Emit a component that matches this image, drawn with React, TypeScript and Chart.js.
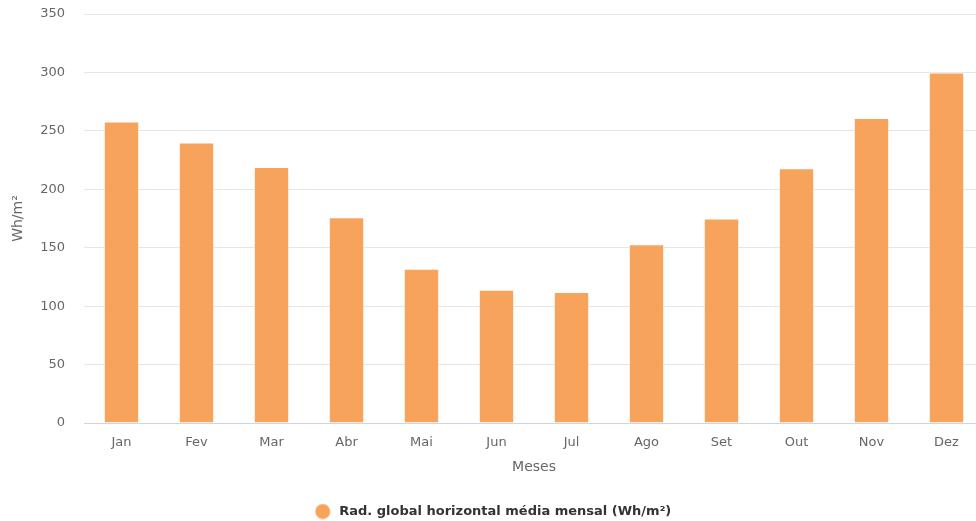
import React, { useEffect, useRef } from "react";
import { Chart, registerables } from "chart.js";

Chart.register(...registerables);

// Monthly mean global horizontal irradiation
const months = ["Jan", "Fev", "Mar", "Abr", "Mai", "Jun", "Jul", "Ago", "Set", "Out", "Nov", "Dez"];
const radiation = [258, 240, 219, 176, 132, 114, 112, 153, 175, 218, 261, 300];
const seriesName = "Rad. global horizontal média mensal (Wh/m²)";
const yTitle = "Wh/m²";
const xTitle = "Meses";
const yMax = 350;
const yStep = 50;

const FONT = "'DejaVu Sans', 'Lucida Grande', Arial, sans-serif";
const BAR_COLOR = "#f7a35c";

// Legend marker: a filled circle centred in a slightly wider box,
// which leaves a little air between the dot and the label.
function makeLegendDot(): HTMLCanvasElement {
  const c = document.createElement("canvas");
  c.width = 20;
  c.height = 16;
  const ctx = c.getContext("2d");
  if (ctx) {
    ctx.fillStyle = BAR_COLOR;
    ctx.beginPath();
    ctx.arc(10, 8, 7.5, 0, Math.PI * 2);
    ctx.fill();
  }
  return c;
}

export default function App() {
  const canvasRef = useRef<HTMLCanvasElement | null>(null);

  useEffect(() => {
    const canvas = canvasRef.current;
    if (!canvas) return;
    const dot = makeLegendDot();
    const chart = new Chart(canvas, {
      type: "bar",
      data: {
        labels: months,
        datasets: [
          {
            label: seriesName,
            data: radiation,
            backgroundColor: BAR_COLOR,
            borderColor: "rgba(255,255,255,0.55)",
            borderWidth: 1,
            barPercentage: 0.8,
            categoryPercentage: 0.59,
            pointStyle: dot as any,
          },
        ],
      },
      options: {
        responsive: false,
        animation: false,
        layout: { padding: { top: 14, right: 8, left: 0, bottom: -7 } },
        plugins: {
          tooltip: { enabled: false },
          legend: {
            position: "bottom",
            labels: {
              usePointStyle: true,
              pointStyleWidth: 20,
              boxHeight: 11,
              padding: 4,
              color: "#333333",
              font: { family: FONT, size: 13, weight: "bold" },
            },
          },
        },
        scales: {
          x: {
            afterFit: (scale: any) => {
              scale.height = 78;
            },
            grid: { display: false, drawTicks: false },
            border: { display: true, color: "#ccd6eb", width: 1 },
            ticks: {
              color: "#666666",
              padding: 12,
              font: { family: FONT, size: 13 },
            },
            title: {
              display: true,
              text: xTitle,
              color: "#666666",
              font: { family: FONT, size: 14 },
              padding: { top: 0, bottom: 25 },
            },
          },
          y: {
            min: 0,
            max: yMax,
            afterFit: (scale: any) => {
              scale.width = 84;
              scale.paddingTop = 0;
              scale.paddingBottom = 0;
            },
            grid: { color: "#e6e6e6", lineWidth: 1, drawTicks: false },
            border: { display: false },
            ticks: {
              stepSize: yStep,
              color: "#666666",
              padding: 19,
              font: { family: FONT, size: 13 },
            },
            title: {
              display: true,
              text: yTitle,
              color: "#666666",
              font: { family: FONT, size: 14 },
              padding: { top: 10, bottom: 0 },
            },
          },
        },
      },
    });
    return () => chart.destroy();
  }, []);

  return (
    <div
      style={{
        position: "fixed",
        left: 0,
        top: 0,
        width: 976,
        height: 521,
        overflow: "hidden",
        background: "#ffffff",
      }}
    >
      <canvas ref={canvasRef} width={992} height={521} style={{ width: 992, height: 521, display: "block" }} />
    </div>
  );
}
